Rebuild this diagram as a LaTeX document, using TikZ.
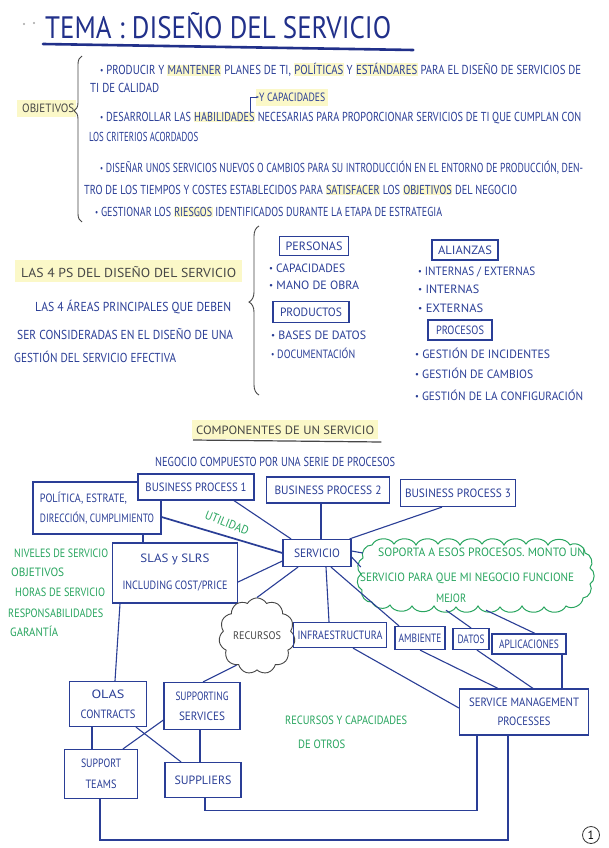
\documentclass[tikz,border=0pt]{standalone}
\usepackage{fontspec}
\setmainfont{PT Sans}
\usetikzlibrary{shapes.symbols,decorations.pathreplacing,calc,arrows.meta}
\definecolor{ink}{RGB}{42,62,150}
\definecolor{titleink}{RGB}{33,48,138}
\definecolor{grn}{RGB}{40,165,95}
\definecolor{hl}{RGB}{251,248,200}
\definecolor{dk}{RGB}{70,70,70}
\newcommand\tx[2]{\resizebox{#1pt}{\height}{#2}}
\newcommand\hlw[1]{{\setlength{\fboxsep}{0.6pt}\colorbox{hl}{#1}}}
\newcommand\bl{{\fontsize{9}{9}\selectfont\raisebox{0.12em}{•}}}
\begin{document}
\begin{tikzpicture}[x=1pt,y=-1pt,
  every node/.style={inner sep=0pt},
  t/.style={anchor=west, text=ink, font=\fontsize{13}{15}\selectfont},
  ts/.style={anchor=west, text=ink, font=\fontsize{12}{14}\selectfont},
  tg/.style={anchor=west, text=grn, font=\fontsize{12}{14}\selectfont},
  bx/.style={draw=ink, line width=1.2pt, text=ink, align=center, font=\fontsize{12}{20}\selectfont},
  lk/.style={draw=ink, line width=1.1pt},
  br/.style={draw=dk, line width=0.9pt, decorate},
  pf/.style={bend left=62},
]
\useasboundingbox (0,0) rectangle (608,848);
\fill[white] (0,0) rectangle (608,848);

% ---------- Title ----------
\fill[gray!70] (24,24) circle (1.2);
\fill[gray!70] (34,23) circle (1.2);
\node[anchor=west, text=titleink, font=\fontsize{31}{33}\selectfont] (title) at (45,26) {\tx{346}{TEMA : DISEÑO DEL SERVICIO}};
\draw[titleink, line width=2.6pt, line cap=round] ([xshift=-2pt,yshift=-18pt]title.west) coordinate (u1) -- ([xshift=22pt,yshift=-24pt]title.east) coordinate (u2);

% ---------- Objetivos ----------
\fill[hl] (17,100) rectangle (76,117);
\node[anchor=west, text=dk, font=\fontsize{12}{14}\selectfont] (obj) at (22,108) {\tx{52}{OBJETIVOS}};
\coordinate (b1a) at (82,222);
\coordinate (b1b) at (82,56);
\draw[br, decoration={brace, amplitude=8pt, aspect=0.67}] (b1a) -- (b1b);

\node[t] (o1) at (100,70) {\tx{481}{\bl\ PRODUCIR Y \hlw{MANTENER} PLANES DE TI, \hlw{POLÍTICAS} Y \hlw{ESTÁNDARES} PARA EL DISEÑO DE SERVICIOS DE}};
\node[t] (o1b) at (90,88) {\tx{69}{TI DE CALIDAD}};
\fill[hl] (256,89) rectangle (328,106);
\node[ts] (ycap) at (259,97) {\tx{66}{Y CAPACIDADES}};
\node[t] (o2) at (100,118) {\tx{481}{\bl\ DESARROLLAR LAS \hlw{HABILIDADES} NECESARIAS PARA PROPORCIONAR SERVICIOS DE TI QUE CUMPLAN CON}};
\coordinate (arA) at (250,112);
\draw[ink, line width=0.8pt, -{Stealth[length=3pt]}] (arA) |- (ycap.west);
\node[t] (o2b) at (89,137) {\tx{109}{LOS CRITERIOS ACORDADOS}};
\node[t] (o3) at (100,168) {\tx{483}{\bl\ DISEÑAR UNOS SERVICIOS NUEVOS O CAMBIOS PARA SU INTRODUCCIÓN EN EL ENTORNO DE PRODUCCIÓN, DEN-}};
\node[t] (o3b) at (84,190) {\tx{433}{TRO DE LOS TIEMPOS Y COSTES ESTABLECIDOS PARA \hlw{SATISFACER} LOS \hlw{OBJETIVOS} DEL NEGOCIO}};
\node[t] (o4) at (95,212) {\tx{347}{\bl\ GESTIONAR LOS \hlw{RIESGOS} IDENTIFICADOS DURANTE LA ETAPA DE ESTRATEGIA}};

% ---------- Las 4 Ps ----------
\fill[hl] (15,260) rectangle (242,282);
\node[anchor=west, text=dk, font=\fontsize{13}{15}\selectfont] (ps) at (21,272) {\tx{215}{LAS 4 PS DEL DISEÑO DEL SERVICIO}};
\node[t] (p1) at (35,307) {\tx{196}{LAS 4 ÁREAS PRINCIPALES QUE DEBEN}};
\node[t] (p2) at (17,334) {\tx{216}{SER CONSIDERADAS EN EL DISEÑO DE UNA}};
\node[t] (p3) at (14,357) {\tx{162}{GESTIÓN DEL SERVICIO EFECTIVA}};
\coordinate (b2a) at (259,395);
\coordinate (b2b) at (259,226);
\draw[br, decoration={brace, amplitude=10pt, aspect=0.55}] (b2a) -- (b2b);

\node[bx, minimum width=69, minimum height=19] (pers) at (314,246) {\tx{57}{PERSONAS}};
\node[ts] (pe1) at (269,268) {\tx{76}{\bl\ CAPACIDADES}};
\node[ts] (pe2) at (269,285) {\tx{90}{\bl\ MANO DE OBRA}};
\node[bx, minimum width=76, minimum height=21] (prod) at (311,312) {\tx{62}{PRODUCTOS}};
\node[ts] (pr1) at (271,335) {\tx{95}{\bl\ BASES DE DATOS}};
\node[ts] (pr2) at (271,353) {\tx{84}{\bl\ DOCUMENTACIÓN}};
\node[bx, minimum width=66, minimum height=20] (ali) at (465,250) {\tx{54}{ALIANZAS}};
\node[ts] (al1) at (418,272) {\tx{117}{\bl\ INTERNAS / EXTERNAS}};
\node[ts] (al2) at (418,289) {\tx{61}{\bl\ INTERNAS}};
\node[ts] (al3) at (418,308) {\tx{65}{\bl\ EXTERNAS}};
\node[bx, minimum width=64, minimum height=20] (proc) at (460,330) {\tx{48}{PROCESOS}};
\node[ts] (pc1) at (415,353) {\tx{135}{\bl\ GESTIÓN DE INCIDENTES}};
\node[ts] (pc2) at (415,373) {\tx{118}{\bl\ GESTIÓN DE CAMBIOS}};
\node[ts] (pc3) at (415,395) {\tx{168}{\bl\ GESTIÓN DE LA CONFIGURACIÓN}};

% ---------- Componentes ----------
\fill[hl] (192,420) rectangle (378,439);
\node[anchor=west, text=dk, font=\fontsize{12}{14}\selectfont] (comp) at (196,430) {\tx{178}{COMPONENTES DE UN SERVICIO}};
\draw[dk, line width=1.2pt] ([xshift=-3pt,yshift=-10pt]comp.west) -- ([xshift=7pt,yshift=-12pt]comp.east);
\node[t] (neg) at (155,462) {\tx{240}{NEGOCIO COMPUESTO POR UNA SERIE DE PROCESOS}};

\node[bx, minimum width=128, minimum height=52, align=left] (pol) at (97,508) {\tx{87}{POLÍTICA, ESTRATE,}\\\tx{114}{DIRECCIÓN, CUMPLIMIENTO}};
\node[bx, fill=white, minimum width=116, minimum height=26] (bp1) at (196,487) {\tx{101}{BUSINESS PROCESS 1}};
\node[bx, minimum width=123, minimum height=26] (bp2) at (328,490) {\tx{107}{BUSINESS PROCESS 2}};
\node[bx, minimum width=115, minimum height=27] (bp3) at (458,493) {\tx{106}{BUSINESS PROCESS 3}};
\node[bx, minimum width=68, minimum height=27] (serv) at (317,553) {\tx{46}{SERVICIO}};
\node[bx, minimum width=125, minimum height=60, font=\fontsize{12}{27}\selectfont] (sla) at (175,573) {\tx{69}{SLAS y SLRS}\\\tx{105}{INCLUDING COST/PRICE}};

% green cloud
\node[minimum width=228, minimum height=62] (cl) at (476,575) {};
\draw[grn, line width=1pt]
  (372,545) to[pf] (394,544) to[pf] (416,545) to[pf] (438,544) to[pf] (460,545)
  to[pf] (482,544) to[pf] (504,545) to[pf] (526,544) to[pf] (548,545) to[pf] (570,545)
  to[pf] (585,553) to[pf] (590,568) to[pf] (590,584) to[pf] (583,598)
  to[pf] (566,606) to[pf] (544,607) to[pf] (522,606) to[pf] (500,607) to[pf] (478,606)
  to[pf] (456,607) to[pf] (434,606) to[pf] (412,606) to[pf] (390,605) to[pf] (372,602)
  to[pf] (362,590) to[pf] (361,574) to[pf] (363,558) to[pf] (372,545);
\node[tg] (c1) at (378,552) {\tx{207}{SOPORTA A ESOS PROCESOS. MONTO UN}};
\node[tg] (c2) at (360,578) {\tx{214}{SERVICIO PARA QUE MI NEGOCIO FUNCIONE}};
\node[tg] (c3) at (436,598) {\tx{30}{MEJOR}};
\node[text=grn, font=\fontsize{12}{14}\selectfont, rotate=-22] (util) at (227,523) {\tx{46}{UTILIDAD}};

\node[tg] (g1) at (14,553) {\tx{94}{NIVELES DE SERVICIO}};
\node[tg] (g2) at (11,572) {\tx{53}{OBJETIVOS}};
\node[tg] (g3) at (15,592) {\tx{90}{HORAS DE SERVICIO}};
\node[tg] (g4) at (8,613) {\tx{95}{RESPONSABILIDADES}};
\node[tg] (g5) at (10,631) {\tx{48}{GARANTÍA}};

\node[draw=dk, line width=0.9pt, cloud, cloud puffs=11, cloud puff arc=120, minimum width=64, minimum height=33, text=dk, font=\fontsize{11}{13}\selectfont] (rec) at (257,636) {\tx{48}{RECURSOS}};
\node[bx, minimum width=93, minimum height=25] (infra) at (340,635) {\tx{85}{INFRAESTRUCTURA}};
\node[bx, minimum width=50, minimum height=23] (amb) at (420,638) {\tx{43}{AMBIENTE}};
\node[bx, minimum width=36, minimum height=21] (datos) at (471,639) {\tx{27}{DATOS}};
\node[bx, minimum width=74, minimum height=20] (apl) at (529,644) {\tx{60}{APLICACIONES}};

\node[bx, minimum width=77, minimum height=45] (olas) at (108,704) {\tx{33}{OLAS}\\\tx{55}{CONTRACTS}};
\node[bx, minimum width=76, minimum height=47] (sups) at (202,706) {\tx{53}{SUPPORTING}\\\tx{46}{SERVICES}};
\node[bx, minimum width=129, minimum height=46, font=\fontsize{12}{19}\selectfont] (smp) at (524,712) {\tx{110}{SERVICE MANAGEMENT}\\\tx{53}{PROCESSES}};
\node[bx, minimum width=73, minimum height=49, font=\fontsize{12}{21}\selectfont] (st) at (101,774) {\tx{40}{SUPPORT}\\\tx{31}{TEAMS}};
\node[bx, minimum width=76, minimum height=35] (supl) at (203,780) {\tx{57}{SUPPLIERS}};

\node[tg] (r1) at (285,720) {\tx{122}{RECURSOS Y CAPACIDADES}};
\node[tg] (r2) at (298,744) {\tx{47}{DE OTROS}};

% ---------- Connectors ----------
\draw[lk] ([xshift=38pt]bp1.south) -- ([xshift=-26pt]serv.north);
\draw[lk] ([xshift=-7pt]bp2.south) -- ([xshift=4pt]serv.north);
\draw[lk] ([xshift=-16pt]bp3.south) -- ([xshift=-2pt]serv.north east);
\draw[lk, line width=1.7pt] ([yshift=-9pt]pol.east) -- (serv.west);
\draw[lk] ([xshift=46pt]pol.south) -- ([xshift=-32pt]sla.north);
\draw[lk] ([yshift=-9pt]sla.east) -- ([yshift=-8pt]serv.west);
\draw[lk] ([yshift=2pt]serv.east) -- ([xshift=1pt,yshift=22pt]cl.west);
\draw[lk] ([yshift=-4pt]serv.east) -- ([xshift=-1pt,yshift=8pt]cl.west);
\draw[lk] ([xshift=-19pt]serv.south) -- (rec.north);
\draw[lk] ([xshift=9pt]serv.south) -- ([xshift=-11pt]infra.north);
\draw[lk] ([xshift=14pt]serv.south) -- ([xshift=-21pt]amb.north);
\draw[lk] ([xshift=-30pt,yshift=-4pt]cl.south) -- (datos.north);
\draw[lk] ([xshift=10pt,yshift=-4pt]cl.south) -- ([xshift=6pt]apl.north);
\draw[lk] ([xshift=13pt]infra.south) -- ([yshift=4pt]smp.west);
\draw[lk] (amb.south) -- ([xshift=-26pt]smp.north);
\draw[lk] ([xshift=6pt]datos.south) -- ([xshift=9pt]smp.north);
\draw[lk] ([xshift=33pt]apl.south) -- ([xshift=38pt]smp.north);
\draw[lk] ([xshift=-55pt]sla.south) -- ([xshift=7pt]olas.north);
\draw[lk] (rec.235) -- ([xshift=1pt]sups.north);
\draw[lk] ([xshift=-16pt]olas.south) -- ([xshift=-9pt]st.north);
\draw[lk] ([yshift=-14pt]sups.west) -- ([xshift=22pt]st.north);
\draw[lk] ([xshift=28pt]olas.south) -- ([xshift=-22pt]supl.north);
\draw[lk] ([xshift=-2pt]sups.south) -- ([xshift=-3pt]supl.north);
\draw[lk] ([xshift=2pt]supl.south) -- ++(0,12) -| ([xshift=-47pt]smp.south);
\draw[lk, line width=1.4pt] ([xshift=-1pt]st.south) -- ++(0,41) -| ([xshift=-16pt]smp.south);

% page number
\node[draw=black!80, circle, line width=0.8pt, minimum size=17, font=\fontsize{12}{12}\selectfont] (pg) at (591,835) {1};
\end{tikzpicture}
\end{document}
